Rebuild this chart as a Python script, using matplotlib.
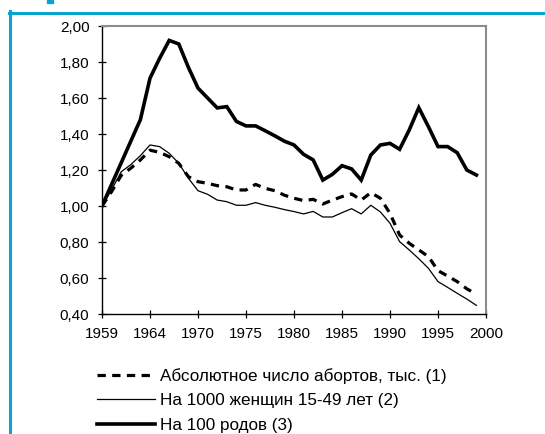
import numpy as np
import matplotlib
matplotlib.use("Agg")
import matplotlib.pyplot as plt
from matplotlib.lines import Line2D
from matplotlib.patches import Rectangle

plt.rcParams['font.family'] = ['Liberation Sans', 'DejaVu Sans']

# Data (index positions 0..39 along a category axis)
abs_abortions = [1.00, 1.08, 1.17, 1.21, 1.256, 1.31, 1.298, 1.274, 1.237, 1.163,
                 1.135, 1.126, 1.113, 1.107, 1.089, 1.089, 1.12, 1.098, 1.085, 1.06,
                 1.043, 1.030, 1.037, 1.011, 1.033, 1.052, 1.067, 1.033, 1.074, 1.043,
                 0.959, 0.839, 0.793, 0.756, 0.719, 0.641, 0.611, 0.580, 0.54, 0.51]
per_1000_women = [1.00, 1.09, 1.19, 1.23, 1.28, 1.339, 1.33, 1.293, 1.237, 1.154,
                  1.085, 1.065, 1.033, 1.024, 1.004, 1.004, 1.019, 1.004, 0.993, 0.98,
                  0.969, 0.956, 0.970, 0.939, 0.939, 0.963, 0.985, 0.956, 1.004, 0.967,
                  0.904, 0.802, 0.756, 0.707, 0.654, 0.580, 0.548, 0.515, 0.483, 0.448]
per_100_births = [1.00, 1.12, 1.24, 1.36, 1.48, 1.71, 1.82, 1.92, 1.90, 1.77,
                  1.655, 1.60, 1.545, 1.552, 1.47, 1.445, 1.445, 1.418, 1.39, 1.36,
                  1.339, 1.287, 1.256, 1.144, 1.176, 1.224, 1.206, 1.144, 1.283, 1.339,
                  1.348, 1.315, 1.422, 1.546, 1.441, 1.33, 1.33, 1.296, 1.20, 1.172]
x_tick_labels = ['1959', '1964', '1970', '1975', '1980', '1985', '1990', '1995', '2000']
y_ticks = [0.40, 0.60, 0.80, 1.00, 1.20, 1.40, 1.60, 1.80, 2.00]
labels = ['Абсолютное число абортов, тыс. (1)',
          'На 1000 женщин 15-49 лет (2)',
          'На 100 родов (3)']

W, H = 545, 434
fig = plt.figure(figsize=(W / 100, H / 100), dpi=100)
ax = fig.add_axes([102 / W, 1 - 314 / H, (486 - 102) / W, (314 - 26) / H])

x = np.arange(len(per_100_births))
l1, = ax.plot(x, abs_abortions, color='black', lw=2.3, linestyle=(0, (2.6, 2.0)),
              dash_capstyle='butt', solid_joinstyle='miter')
l2, = ax.plot(x, per_1000_women, color='black', lw=0.9)
l3, = ax.plot(x, per_100_births, color='black', lw=2.6, solid_joinstyle='miter')

ax.set_xlim(0, 40)
ax.set_ylim(0.40, 2.00)
ax.set_xticks(np.arange(0, 41, 5))
ax.set_xticklabels(x_tick_labels)
ax.set_yticks(y_ticks)
ax.set_yticklabels([f"{v:.2f}".replace('.', ',') for v in y_ticks])

for s in ['left', 'bottom']:
    ax.spines[s].set_color('black')
    ax.spines[s].set_linewidth(1.0)
for s in ['top', 'right']:
    ax.spines[s].set_color('#8c8c8c')
    ax.spines[s].set_linewidth(1.5)

ax.tick_params(axis='y', direction='inout', length=6, width=0.9, pad=6, labelsize=11)
ax.tick_params(axis='x', direction='inout', length=6, width=0.9, pad=6, labelsize=11)

leg = fig.legend([l1, l2, l3], labels, loc='upper left',
                 bbox_to_anchor=(97 / W, 1 - 368 / H), frameon=False,
                 fontsize=12.3, handlelength=3.4, handletextpad=0.3,
                 labelspacing=0.55, borderaxespad=0, borderpad=0)

# Blue frame decoration
blue = '#0aa3cc'
fig.add_artist(Line2D([10 / W, 10 / W], [0, 1 - 11 / H], color=blue, lw=2.2,
                      transform=fig.transFigure))
fig.add_artist(Line2D([9 / W, 1], [1 - 12.5 / H, 1 - 12.5 / H], color=blue, lw=2.2,
                      transform=fig.transFigure))
fig.add_artist(Rectangle((47 / W, 1 - 2.5 / H), 6 / W, 2.5 / H, color=blue,
                         transform=fig.transFigure))

fig.savefig('out.png', dpi=100)
